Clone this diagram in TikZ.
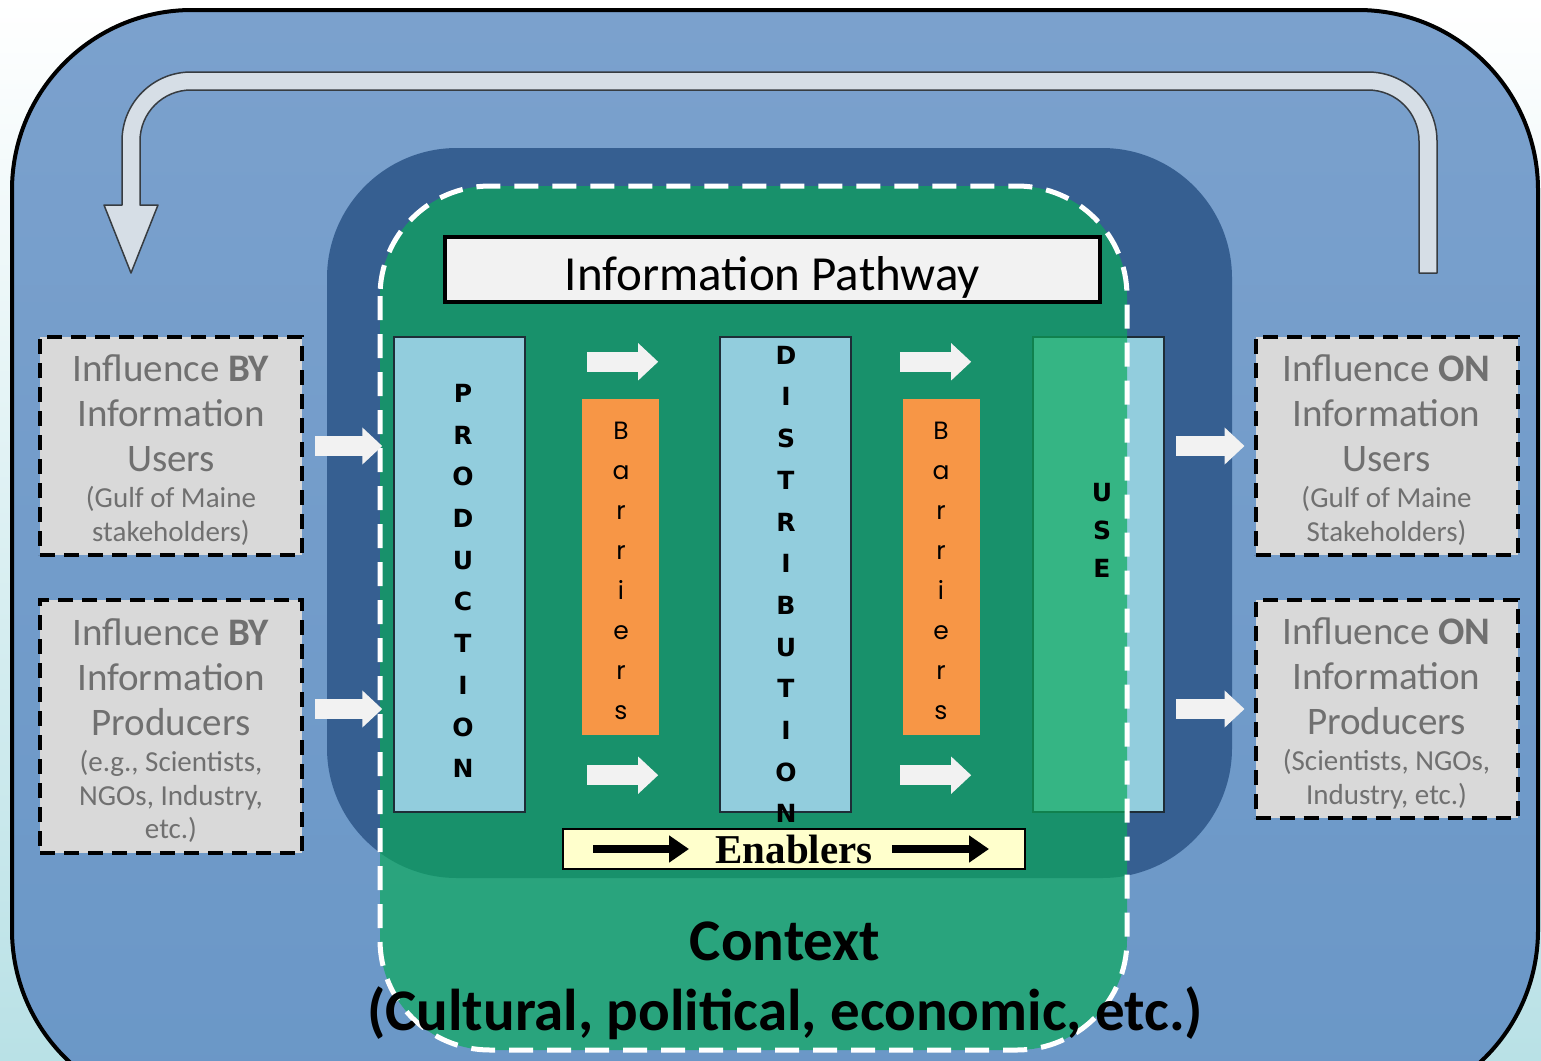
\documentclass[tikz,border=0pt]{standalone}
\usepackage{fontspec}
\setmainfont{Carlito}
\newfontfamily\letterfont{DejaVu Sans}
\newfontfamily\barfont{Poppins}
\newfontfamily\enfont{Liberation Serif}
\usetikzlibrary{arrows.meta}

\definecolor{outerblue}{RGB}{123,161,205}
\definecolor{outerbluelow}{RGB}{106,151,199}
\definecolor{deepblue}{RGB}{54,95,145}
\definecolor{contextgreen}{RGB}{10,170,90}
\definecolor{colblue}{RGB}{146,205,221}
\definecolor{coledge}{RGB}{30,45,55}
\definecolor{barorange}{RGB}{247,150,70}
\definecolor{boxgray}{RGB}{217,217,217}
\definecolor{boxtext}{RGB}{112,112,112}
\definecolor{arrowwhite}{RGB}{242,242,242}
\definecolor{loopfill}{RGB}{214,222,230}
\definecolor{loopedge}{RGB}{55,60,65}
\definecolor{enyellow}{RGB}{255,255,204}
\definecolor{paleedge}{RGB}{185,225,230}

\newcommand\subline{\fontsize{29}{34}\selectfont}

\tikzset{influence/.style={draw=black, fill=boxgray, line width=4pt,
        dash pattern=on 15pt off 9pt, minimum width=262pt},
    influencetext/.style={text=boxtext, align=center, inner sep=0pt,
        font=\fontsize{39}{45}\selectfont},
    column/.style={draw=coledge, fill=colblue, line width=1.5pt,
        minimum width=131pt, minimum height=475pt},
    barrier/.style={fill=barorange, minimum width=77pt, minimum height=336pt},
    stack/.style={align=center, inner sep=0pt,
        font=\letterfont\bfseries\fontsize{25}{41.7}\selectfont},
    barstack/.style={align=center, inner sep=0pt,
        font=\barfont\fontsize{25}{40}\selectfont},
    whitearrow/.style={draw=arrowwhite, line width=20pt,
        -{Triangle[length=20pt,width=36pt]}},
    blackarrow/.style={draw=black, line width=8pt,
        -{Triangle[length=20pt,width=26pt]}},
    loop/.style={fill=loopfill, draw=loopedge, line width=1.5pt, line join=round}}

\begin{document}
\begin{tikzpicture}[x=1pt, y=-1pt]
    \useasboundingbox (0,0) rectangle (1541,1060);
    \clip (0,0) rectangle (1541,1060);
    \fill[top color=white, bottom color=paleedge] (0,0) rectangle (1541,1060);

    % outer frame and layers
    \draw[line width=4pt, top color=outerblue, bottom color=outerbluelow,
          rounded corners=180pt] (12,10) rectangle (1538,1110);
    \fill[deepblue, rounded corners=130pt] (327,148) rectangle (1232,878);

    % feedback loop
    \draw[loop] (1419,273) -- (1419,141) arc[start angle=0, end angle=-90, radius=51]
        -- (191,90) arc[start angle=-90, end angle=-180, radius=51]
        -- (140,205) -- (158,205) -- (131,273) -- (104,205) -- (122,205)
        -- (122,141) arc[start angle=180, end angle=270, radius=69]
        -- (1368,72) arc[start angle=270, end angle=360, radius=69]
        -- (1437,273) -- cycle;

    \node[column] (use) at (1098.5,574.5) {};

    % context layer
    \fill[contextgreen, fill opacity=0.68, rounded corners=110pt]
        (380,186) rectangle (1127,1050);
    \draw[white, line width=5pt, dash pattern=on 24pt off 14pt,
          rounded corners=110pt] (380,186) rectangle (1127,1050);

    \node[draw=black, line width=4pt, fill=arrowwhite, minimum width=655pt,
          minimum height=65pt, text height=45pt, text depth=4pt,
          font=\fontsize{49}{50}\selectfont]
        (pathway) at (772.5,269.5) {Information Pathway};

    \node[column] (production) at (459.5,574.5) {};
    \node[column] (distribution) at (785.5,574.5) {};
    \node[barrier] (bar1) at (620.5,567) {};
    \node[barrier] (bar2) at (941.5,567) {};

    \node[stack] (prodtext) at (463,581) {P\\R\\O\\D\\U\\C\\T\\I\\O\\N};
    \node[stack] (disttext) at (786,584.5) {D\\I\\S\\T\\R\\I\\B\\U\\T\\I\\O\\N};
    \node[stack, font=\letterfont\bfseries\fontsize{25}{38}\selectfont]
        (usetext) at (1102,530) {U\\S\\E};
    \node[barstack] (bartext1) at (621,571) {B\\a\\r\\r\\i\\e\\r\\s};
    \node[barstack] (bartext2) at (941,571) {B\\a\\r\\r\\i\\e\\r\\s};

    \node[draw=black, line width=2pt, fill=enyellow, minimum width=462pt,
          minimum height=40pt, inner sep=0pt, font=\enfont\bfseries\fontsize{41}{41}\selectfont]
        (enablers) at (794,849) {Enablers};
    \draw[blackarrow] ([xshift=31pt]enablers.west) -- ([xshift=127pt]enablers.west);
    \draw[blackarrow] ([xshift=-134pt]enablers.east) -- ([xshift=-37pt]enablers.east);

    \node[font=\bfseries\fontsize{59}{70}\selectfont, align=center] (context)
        at (785,981) {Context\\(Cultural, political, economic, etc.)};

    % influence boxes
    \node[influence, minimum height=218pt] (byusers) at (171,446) {};
    \node[influence, minimum height=253pt] (byproducers) at (171,726.5) {};
    \node[influence, minimum height=218pt] (onusers) at (1386.5,446) {};
    \node[influence, minimum height=218pt] (onproducers) at (1386.5,709) {};

    \node[influencetext] (byuserstext) at ([yshift=-4.5pt]byusers.center)
        {Influence \textbf{BY}\\Information\\Users\\[-9pt]\subline(Gulf of Maine\\[-11pt]\subline stakeholders)};
    \node[influencetext] (byproducerstext) at ([yshift=-4.5pt]byproducers.center)
        {Influence \textbf{BY}\\Information\\Producers\\[-9pt]\subline(e.g., Scientists,\\[-11pt]\subline NGOs, Industry,\\[-12pt]\subline etc.)};
    \node[influencetext] (onuserstext) at ([yshift=-4.5pt]onusers.center)
        {Influence \textbf{ON}\\Information\\Users\\[-9pt]\subline(Gulf of Maine\\[-11pt]\subline Stakeholders)};
    \node[influencetext] (onproducerstext) at ([yshift=-4.5pt]onproducers.center)
        {Influence \textbf{ON}\\Information\\Producers\\[-9pt]\subline(Scientists, NGOs,\\[-11pt]\subline Industry, etc.)};

    % flow arrows
    \draw[whitearrow, shorten <=11pt, shorten >=11pt] (byusers.east) -- (production.west |- byusers);
    \draw[whitearrow, shorten <=11pt, shorten >=11pt] (byproducers.east |- onproducers) -- (production.west |- onproducers);
    \draw[whitearrow, shorten <=11pt, shorten >=9pt] (use.east |- onusers) -- (onusers.west);
    \draw[whitearrow, shorten <=11pt, shorten >=9pt] (use.east |- onproducers) -- (onproducers.west);
    \draw[whitearrow] ([shift={(5pt,37pt)}]bar1.north west) -- ([shift={(-1pt,37pt)}]bar1.north east);
    \draw[whitearrow] ([shift={(5pt,-40pt)}]bar1.south west) -- ([shift={(-1pt,-40pt)}]bar1.south east);
    \draw[whitearrow] ([shift={(-3pt,37pt)}]bar2.north west) -- ([shift={(-9pt,37pt)}]bar2.north east);
    \draw[whitearrow] ([shift={(-3pt,-40pt)}]bar2.south west) -- ([shift={(-9pt,-40pt)}]bar2.south east);
\end{tikzpicture}
\end{document}
